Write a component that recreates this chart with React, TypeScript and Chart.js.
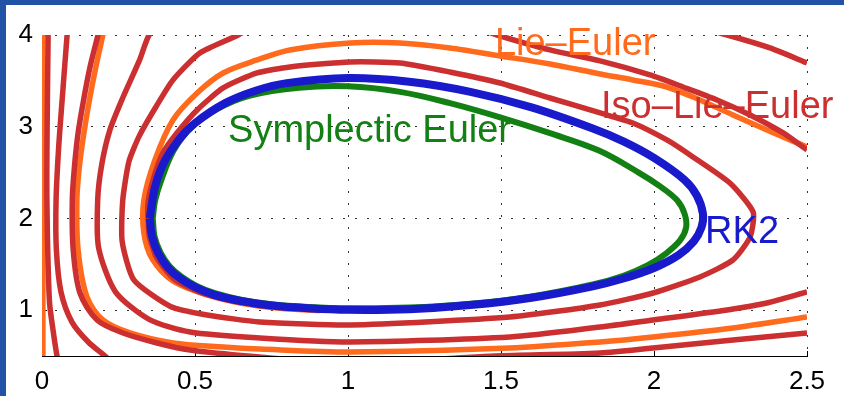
import React, { useEffect, useRef } from 'react';
import { Chart, registerables } from 'chart.js';

Chart.register(...registerables);

// ---- ticks ----
const xTickValues = [0, 0.5, 1, 1.5, 2, 2.5];
const xTickLabels = ['0', '0.5', '1', '1.5', '2', '2.5'];
const yTickValues = [1, 2, 3, 4];
const yTickLabels = ['1', '2', '3', '4'];

// ---- RK2 (blue) ----
const rk2X = [0.352, 0.36, 0.38, 0.41, 0.45, 0.5, 0.56, 0.65, 0.75, 0.87, 1.0, 1.2, 1.4, 1.6, 1.8, 1.9, 2.0, 2.08, 2.13, 2.155, 2.16, 2.14, 2.1, 2.0, 1.9, 1.8, 1.6, 1.4, 1.2, 1.0, 0.8, 0.7, 0.6, 0.5, 0.45, 0.4, 0.37, 0.352];
const rk2Y = [2.0, 1.8, 1.62, 1.47, 1.35, 1.25, 1.17, 1.1, 1.05, 1.02, 1.003, 1.01, 1.055, 1.135, 1.26, 1.345, 1.46, 1.6, 1.75, 1.9, 2.05, 2.25, 2.42, 2.66, 2.84, 2.98, 3.21, 3.38, 3.49, 3.53, 3.475, 3.395, 3.26, 3.04, 2.87, 2.62, 2.35, 2.0];

// ---- Symplectic Euler (green) ----
const seX = [0.362, 0.368, 0.387, 0.417, 0.456, 0.505, 0.565, 0.65, 0.75, 0.87, 1.0, 1.2, 1.4, 1.6, 1.8, 1.9, 1.98, 2.04, 2.085, 2.105, 2.1, 2.075, 2.02, 1.95, 1.82, 1.66, 1.5, 1.33, 1.17, 1.0, 0.84, 0.68, 0.57, 0.49, 0.43, 0.39, 0.37, 0.362];
const seY = [2.0, 1.8, 1.63, 1.48, 1.365, 1.265, 1.185, 1.115, 1.065, 1.035, 1.02, 1.028, 1.07, 1.15, 1.28, 1.375, 1.49, 1.62, 1.76, 1.9, 2.05, 2.2, 2.35, 2.5, 2.74, 2.93, 3.1, 3.26, 3.38, 3.44, 3.425, 3.34, 3.19, 3.0, 2.74, 2.42, 2.2, 2.0];

// ---- Iso-Lie-Euler (red) trajectories ----
const ile1X = [2.5, 2.379, 2.239, 1.987, 1.333, 0.843, 0.712, 0.641, 0.516, 0.428, 0.372, 0.318, 0.284, 0.264, 0.262, 0.3, 0.42, 0.539, 0.712, 1.007, 1.529, 1.824, 1.997, 2.15, 2.258, 2.314, 2.324, 2.248, 2.118, 2.042, 1.931, 1.824, 1.66, 1.497, 1.333, 1.17, 1.007, 0.81, 0.703, 0.592, 0.507, 0.441, 0.395, 0.363, 0.346, 0.35, 0.375, 0.435, 0.533, 0.647, 0.843, 1.007];
const ile1Y = [3.695, 3.859, 4.0, 4.218, 4.38, 4.27, 4.14, 4.0, 3.804, 3.51, 3.215, 2.9, 2.62, 2.2, 1.75, 1.33, 1.04, 0.947, 0.871, 0.838, 0.925, 1.056, 1.187, 1.362, 1.547, 1.798, 2.07, 2.387, 2.692, 2.856, 3.041, 3.15, 3.313, 3.477, 3.597, 3.695, 3.706, 3.652, 3.586, 3.423, 3.183, 2.932, 2.714, 2.419, 2.147, 1.82, 1.569, 1.329, 1.176, 1.089, 1.034, 1.013];

const ile2X = [2.5, 2.422, 2.314, 2.206, 2.095, 1.987, 1.824, 1.66, 1.487, 1.333, 0.843, 0.516, 0.386, 0.35, 0.318, 0.265, 0.222, 0.195, 0.182, 0.185, 0.24, 0.35, 0.484, 0.712, 1.007, 1.529, 1.824, 1.997, 2.239, 2.369, 2.5];
const ile2Y = [2.746, 2.932, 3.128, 3.292, 3.433, 3.564, 3.717, 3.837, 4.0, 4.164, 4.38, 4.33, 4.11, 4.0, 3.72, 3.324, 2.965, 2.583, 2.201, 1.68, 1.2, 0.9, 0.762, 0.696, 0.653, 0.707, 0.816, 0.893, 1.002, 1.078, 1.198];

const ile3X = [0.192, 0.183, 0.157, 0.136, 0.118, 0.106, 0.099, 0.102, 0.124, 0.18, 0.265, 0.376, 0.484, 0.67, 0.843, 1.072, 1.3, 1.48, 1.824, 1.997, 2.258, 2.5];
const ile3Y = [4.12, 4.0, 3.652, 3.292, 2.932, 2.561, 2.201, 1.656, 1.187, 0.893, 0.751, 0.642, 0.565, 0.5, 0.456, 0.445, 0.467, 0.5, 0.533, 0.587, 0.674, 0.751];

const ile4X = [0.085, 0.082, 0.066, 0.054, 0.046, 0.047, 0.062, 0.098, 0.152, 0.206, 0.255];
const ile4Y = [4.12, 4.0, 3.3, 2.75, 2.2, 1.66, 1.2, 0.87, 0.65, 0.5, 0.347];

const ile5X = [0.02, 0.02, 0.017, 0.016, 0.024, 0.036, 0.049, 0.059];
const ile5Y = [4.12, 4.0, 3.074, 2.201, 1.111, 0.784, 0.5, 0.347];

// ---- Lie-Euler (orange) trajectories ----
const le1X = [2.55, 2.5, 2.369, 2.258, 2.15, 2.042, 1.931, 1.824, 1.66, 1.497, 1.333, 1.17, 1.007, 0.81, 0.703, 0.592, 0.507, 0.428, 0.369, 0.333, 0.333, 0.36, 0.428, 0.539, 0.647, 0.778, 0.908];
const le1Y = [2.72, 2.779, 2.965, 3.128, 3.292, 3.433, 3.51, 3.575, 3.684, 3.772, 3.859, 3.913, 3.913, 3.837, 3.728, 3.586, 3.368, 3.074, 2.637, 2.201, 1.841, 1.56, 1.318, 1.165, 1.078, 1.02, 0.995];

const le2X = [0.207, 0.199, 0.176, 0.155, 0.137, 0.122, 0.114, 0.118, 0.147, 0.199, 0.288, 0.428, 0.592, 0.712, 1.007, 1.529, 1.824, 1.997, 2.258, 2.5];
const le2Y = [4.12, 4.0, 3.652, 3.292, 2.932, 2.561, 2.201, 1.656, 1.143, 0.893, 0.751, 0.642, 0.598, 0.576, 0.544, 0.587, 0.653, 0.707, 0.805, 0.925];

const le3X = [0.003, 0.003];
const le3Y = [4.12, 0.38];

// ---- styles ----
const RED = '#cc2f2f';
const ORANGE = '#ff6a1c';
const GREEN = '#138013';
const BLUE = '#1a1acd';
const FRAME = '#2252a6';
const FONT = '"Liberation Sans", Arial, Helvetica, sans-serif';

const annotations = [
  { text: 'Lie\u2013Euler', x: 1.48, y: 3.782, color: ORANGE },
  { text: 'Iso\u2013Lie\u2013Euler', x: 1.827, y: 3.095, color: RED },
  { text: 'Symplectic Euler', x: 0.608, y: 2.834, color: GREEN },
  { text: 'RK2', x: 2.167, y: 1.732, color: BLUE },
];

const pts = (xs: number[], ys: number[]) => xs.map((x, i) => ({ x, y: ys[i] }));

function line(xs: number[], ys: number[], color: string, width: number, order: number, tension = 0.3) {
  return {
    data: pts(xs, ys),
    borderColor: color,
    backgroundColor: color,
    borderWidth: width,
    showLine: true,
    pointRadius: 0,
    pointHoverRadius: 0,
    tension,
    fill: false,
    clip: 0,
    order,
  };
}

const decor = {
  id: 'decor',
  beforeDraw(chart: any) {
    const { ctx, width, height } = chart;
    ctx.save();
    ctx.fillStyle = '#ffffff';
    ctx.fillRect(0, 0, width, height);
    ctx.fillStyle = FRAME;
    ctx.fillRect(0, 0, 6, height);
    ctx.fillRect(0, 0, width, 5);
    ctx.restore();
  },
  beforeDatasetsDraw(chart: any) {
    const { ctx, chartArea: a, scales } = chart;
    ctx.save();
    ctx.strokeStyle = '#000';
    ctx.lineWidth = 1;
    ctx.beginPath();
    xTickValues.forEach((v) => {
      const px = Math.round(scales.x.getPixelForValue(v)) + 0.5;
      ctx.moveTo(px, a.bottom);
      ctx.lineTo(px, a.bottom - 5);
    });
    yTickValues.forEach((v) => {
      const py = Math.round(scales.y.getPixelForValue(v)) + 0.5;
      ctx.moveTo(a.left, py);
      ctx.lineTo(a.left + 5, py);
    });
    ctx.stroke();
    ctx.restore();
  },
  afterDatasetsDraw(chart: any) {
    const { ctx, scales } = chart;
    ctx.save();
    ctx.font = `38px ${FONT}`;
    ctx.textAlign = 'left';
    ctx.textBaseline = 'alphabetic';
    annotations.forEach((a) => {
      ctx.fillStyle = a.color;
      ctx.fillText(a.text, scales.x.getPixelForValue(a.x), scales.y.getPixelForValue(a.y));
    });
    ctx.restore();
  },
};

export default function App() {
  const ref = useRef<HTMLCanvasElement | null>(null);

  useEffect(() => {
    const canvas = ref.current;
    if (!canvas) return;
    const datasets: any[] = [
      line(rk2X, rk2Y, BLUE, 8, 0, 0.35),
      line(seX, seY, GREEN, 6, 1, 0.35),
      line(ile1X, ile1Y, RED, 5.5, 2, 0.2),
      line(ile2X, ile2Y, RED, 5.5, 2, 0.25),
      line(ile3X, ile3Y, RED, 5.5, 2, 0.3),
      line(ile4X, ile4Y, RED, 5.5, 2, 0.3),
      line(ile5X, ile5Y, RED, 5.5, 2, 0.3),
      line(le1X, le1Y, ORANGE, 5.5, 3, 0.3),
      line(le2X, le2Y, ORANGE, 5.5, 3, 0.3),
      line(le3X, le3Y, ORANGE, 5.5, 3, 0),
    ];
    const tickFont = { family: FONT, size: 26 };
    const chart = new Chart(canvas, {
      type: 'scatter',
      data: { datasets },
      options: {
        animation: false,
        responsive: false,
        devicePixelRatio: 1,
        events: [],
        layout: { padding: { left: 0, top: 35, right: 37, bottom: 0 } },
        elements: { line: { capBezierPoints: false } },
        plugins: { legend: { display: false }, tooltip: { enabled: false } },
        scales: {
          x: {
            type: 'linear',
            position: 'bottom',
            min: 0,
            max: 2.5,
            afterBuildTicks: (s: any) => {
              s.ticks = xTickValues.map((v) => ({ value: v }));
            },
            afterFit: (s: any) => {
              s.height = 40;
            },
            ticks: {
              callback: (v: any) => xTickLabels[xTickValues.indexOf(Number(v))] ?? '',
              font: tickFont,
              color: '#000',
              padding: 10,
              maxRotation: 0,
              autoSkip: false,
            },
            grid: {
              color: (c: any) => (c.tick && c.tick.value === 0 ? 'rgba(0,0,0,0)' : '#333'),
              lineWidth: 1,
              drawTicks: false,
            },
            border: { display: true, color: '#000', width: 1, dash: [2, 10] },
          },
          y: {
            type: 'linear',
            position: 'left',
            min: 0.5,
            max: 4,
            afterBuildTicks: (s: any) => {
              s.ticks = yTickValues.map((v) => ({ value: v }));
            },
            afterFit: (s: any) => {
              s.width = 42;
            },
            ticks: {
              callback: (v: any) => yTickLabels[yTickValues.indexOf(Number(v))] ?? '',
              font: tickFont,
              color: '#000',
              padding: 9,
              autoSkip: false,
            },
            grid: { color: '#333', lineWidth: 1, drawTicks: false },
            border: { display: true, color: '#000', width: 1, dash: [2, 10] },
          },
        },
      } as any,
      plugins: [decor],
    });
    return () => chart.destroy();
  }, []);

  return (
    <div style={{ position: 'fixed', left: 0, top: 0, width: 844, height: 396, background: '#fff' }}>
      <canvas ref={ref} width={844} height={396} style={{ display: 'block', width: 844, height: 396 }} />
    </div>
  );
}
